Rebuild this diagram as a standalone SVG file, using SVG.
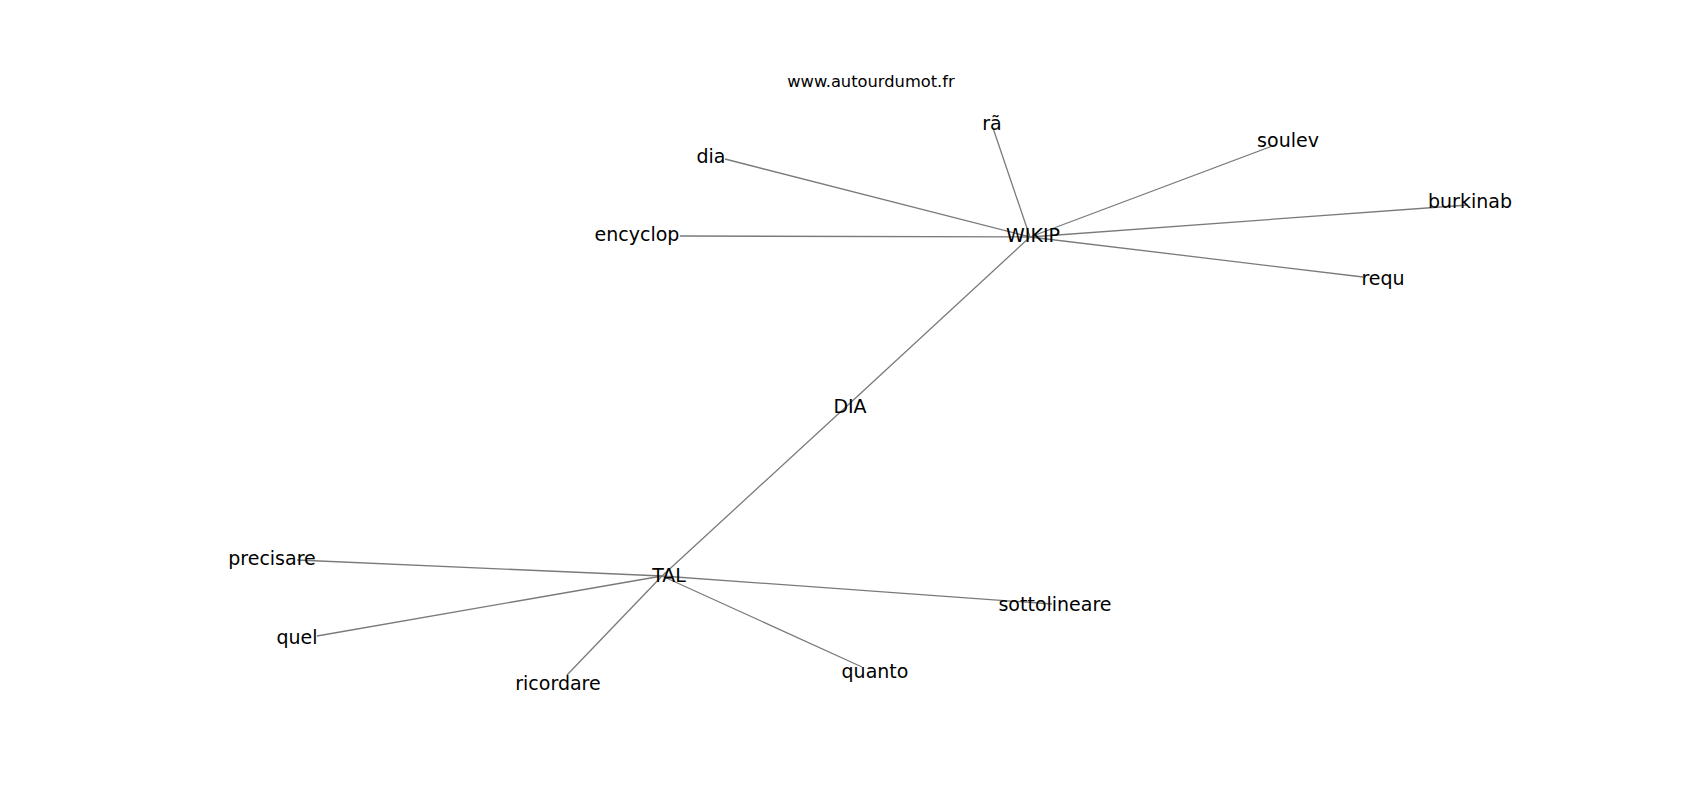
<svg xmlns="http://www.w3.org/2000/svg" width="1700" height="800" viewBox="0 0 1700 800">
<style>
.e{stroke:#7a7a7a;stroke-width:1.3;fill:none}
.l{font-family:"DejaVu Sans",sans-serif;font-size:19px;fill:#000;text-anchor:middle}
.t{font-family:"DejaVu Sans",sans-serif;font-size:16.3px;fill:#000;text-anchor:middle}
</style>
<rect width="1700" height="800" fill="#fff"/>
<g id="edges">
<line class="e" x1="1030" y1="237" x2="993" y2="128"/>
<line class="e" x1="1030" y1="237" x2="725" y2="159"/>
<line class="e" x1="1030" y1="237" x2="680" y2="236"/>
<line class="e" x1="1030" y1="237" x2="1275" y2="145"/>
<line class="e" x1="1030" y1="237" x2="1468" y2="205"/>
<line class="e" x1="1030" y1="237" x2="1363" y2="277"/>
<line class="e" x1="1030" y1="237" x2="848" y2="405"/>
<line class="e" x1="848" y1="405" x2="662" y2="576"/>
<line class="e" x1="662" y1="576" x2="297" y2="560"/>
<line class="e" x1="662" y1="576" x2="317" y2="636"/>
<line class="e" x1="662" y1="576" x2="567" y2="675"/>
<line class="e" x1="662" y1="576" x2="1052" y2="604"/>
<line class="e" x1="662" y1="576" x2="862" y2="667"/>
</g>
<text class="t" x="871" y="87">www.autourdumot.fr</text>
<g id="n-ra"><text class="l" x="992" y="130">rã</text></g>
<g id="n-dia"><text class="l" x="711" y="163">dia</text></g>
<g id="n-encyclop"><text class="l" x="637" y="241">encyclop</text></g>
<g id="n-WIKIP"><text class="l" x="1033" y="242">WIKIP</text></g>
<g id="n-soulev"><text class="l" x="1288" y="147">soulev</text></g>
<g id="n-burkinab"><text class="l" x="1470" y="208">burkinab</text></g>
<g id="n-requ"><text class="l" x="1383" y="285">requ</text></g>
<g id="n-DIA"><text class="l" x="850" y="413">DIA</text></g>
<g id="n-precisare"><text class="l" x="272" y="565">precisare</text></g>
<g id="n-TAL"><text class="l" x="669" y="582">TAL</text></g>
<g id="n-quel"><text class="l" x="297" y="644">quel</text></g>
<g id="n-ricordare"><text class="l" x="558" y="690">ricordare</text></g>
<g id="n-sottolineare"><text class="l" x="1055" y="611">sottolineare</text></g>
<g id="n-quanto"><text class="l" x="875" y="678">quanto</text></g>
</svg>
